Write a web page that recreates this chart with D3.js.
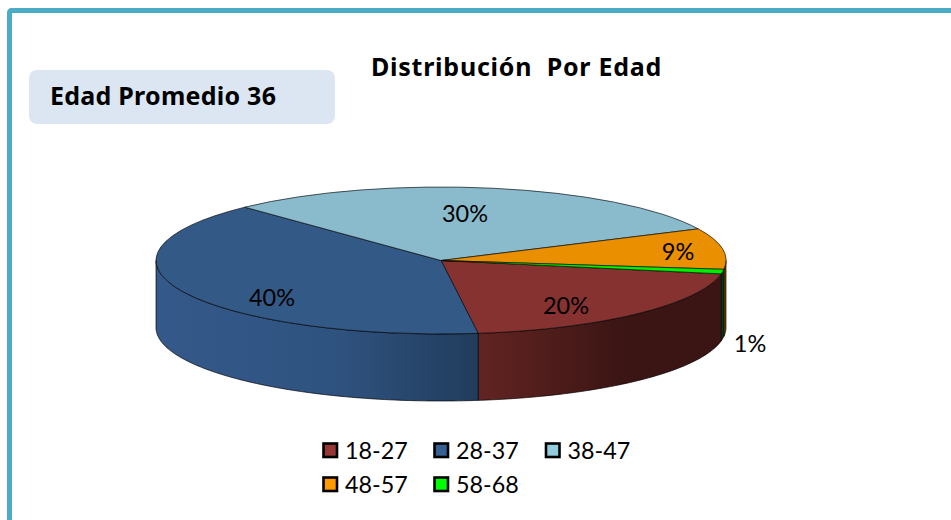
<!DOCTYPE html>
<html><head><meta charset="utf-8">
<script src="https://cdn.jsdelivr.net/npm/d3@7/dist/d3.min.js"></script>
<style>html,body{margin:0;padding:0;background:#fff}svg{display:block}text{fill:#000}</style>
</head><body>
<svg id="c" width="951" height="520"></svg>
<script>
const categories = ["18-27","28-37","38-47","48-57","58-68"];
const values = [20,40,30,9,1];
const labels = ["20%","40%","30%","9%","1%"];
const titleText = "Distribución\u00a0 Por Edad";
const noteText = "Edad Promedio 36";

const W=951,H=520,cx=441,cy=260.5,rx=285,ry=73.5,depth=67;
const topCols=["#863230","#335a87","#89bbcd","#ea8f00","#00ee00"];
const legCols=["#953735","#376092","#93cddd","#ff9900","#00ff00"];
const wallStops=[["#622422","#3a1513"],["#36618f","#213c5c"],["#6f9cae","#55808f"],["#a86800","#6e4400"],["#0d4a0d","#0a2e0a"]];
const labelAt=[[566,306],[272,298],[465,214],[678,252],[750,344]];
const FONT='Lato,"Open Sans",sans-serif';
const BOLD='"Noto Sans",sans-serif';
const svg=d3.select("#c");

svg.append("rect").attr("x",9.5).attr("y",10.5).attr("width",W+20).attr("height",H+20).attr("rx",2)
  .attr("fill","#fff").attr("stroke","#4bacc6").attr("stroke-width",5);

svg.append("rect").attr("x",29).attr("y",70).attr("width",306).attr("height",54).attr("rx",8).attr("fill","#dce6f2");
svg.append("text").attr("x",50).attr("y",105).attr("font-family",BOLD).attr("font-weight","bold").attr("font-size",25).attr("letter-spacing",.25).text(noteText);
svg.append("text").attr("x",371).attr("y",76).attr("font-family",BOLD).attr("font-weight","bold").attr("font-size",25).attr("letter-spacing",.75).text(titleText);

const deg=Math.PI/180;
const pie=d3.pie().sort(null).value(d=>d).startAngle(100.5*deg).endAngle(460.5*deg);
const arcs=pie(values);
const xS=d3.scaleLinear([-1,1],[cx-rx,cx+rx]);
const yS=d3.scaleLinear([-1,1],[cy-ry,cy+ry]);
const defs=svg.append("defs");
const lo=90*deg,hi=270*deg;
const pieces=[];
arcs.forEach((a,i)=>{
  [[a.startAngle,a.endAngle],[a.startAngle-2*Math.PI,a.endAngle-2*Math.PI]].forEach(([s,e])=>{
    const s2=Math.max(s,lo),e2=Math.min(e,hi);
    if(e2>s2)pieces.push({i,s:s2,e:e2});
  });
});
pieces.sort((a,b)=>Math.abs(Math.sin(b.s))-Math.abs(Math.sin(a.s)));
const line=d3.line();
pieces.forEach((p,k)=>{
  const n=Math.max(2,Math.ceil((p.e-p.s)/deg));
  const ts=d3.range(n+1).map(j=>p.s+(p.e-p.s)*j/n);
  const topE=ts.map(t=>[xS(Math.sin(t)),yS(-Math.cos(t))]);
  const botE=ts.slice().reverse().map(t=>[xS(Math.sin(t)),yS(-Math.cos(t))+depth]);
  const xs=topE.map(d=>d[0]);
  const g=defs.append("linearGradient").attr("id","w"+k).attr("gradientUnits","userSpaceOnUse")
    .attr("x1",d3.min(xs)).attr("x2",d3.max(xs)).attr("y1",0).attr("y2",0);
  let c=wallStops[p.i];
  g.append("stop").attr("offset",0).attr("stop-color",p.i==1?"#34598a":c[0]);
  g.append("stop").attr("offset",p.i==1?0.55:0.6).attr("stop-color",p.i==1?"#2f5380":c[1]);
  g.append("stop").attr("offset",1).attr("stop-color",c[1]);
  svg.append("path").attr("d",line(topE.concat(botE))+"Z").attr("fill",`url(#w${k})`)
    .attr("stroke","#000").attr("stroke-opacity",.85).attr("stroke-width",.8).attr("stroke-linejoin","round");
});
const arc=d3.arc().innerRadius(0).outerRadius(rx);
const gTop=svg.append("g").attr("transform",`translate(${cx},${cy}) scale(1,${ry/rx})`);
gTop.selectAll("path").data(arcs).join("path").attr("d",arc)
  .attr("fill",(d,i)=>topCols[i]).attr("stroke","#000").attr("stroke-opacity",.8)
  .attr("stroke-width",.8).attr("vector-effect","non-scaling-stroke");

svg.append("g").selectAll("text").data(labels).join("text")
  .attr("x",(d,i)=>labelAt[i][0]).attr("y",(d,i)=>labelAt[i][1]+8)
  .attr("text-anchor","middle").attr("font-family",FONT).attr("font-size",23.5).text(d=>d);

const legX=[323.5,434.5,546],legY=[443.5,477.5];
const lg=svg.append("g").selectAll("g").data(categories).join("g")
  .attr("transform",(d,i)=>`translate(${legX[i%3]},${legY[Math.floor(i/3)]})`);
lg.append("rect").attr("width",13.5).attr("height",13.5).attr("fill",(d,i)=>legCols[i]).attr("stroke","#000").attr("stroke-width",2.6);
lg.append("text").attr("x",21.5).attr("y",15).attr("font-family",FONT).attr("font-size",23.3).text(d=>d);
</script>
</body></html>
